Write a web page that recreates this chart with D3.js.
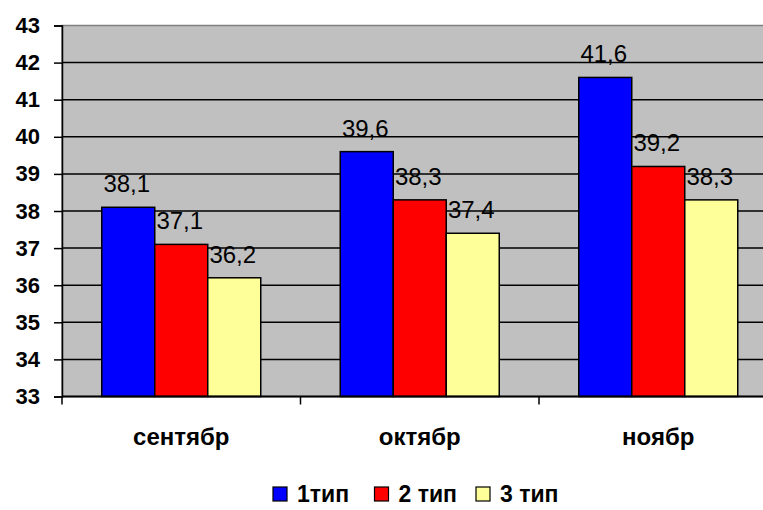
<!DOCTYPE html>
<html>
<head>
<meta charset="utf-8">
<script src="https://cdn.jsdelivr.net/npm/d3@7"></script>
<style>
  body { margin: 0; background: #fff; }
  svg { display: block; font-family: Arial, "Liberation Sans", sans-serif; }
</style>
</head>
<body>
<svg width="763" height="510"></svg>
<script>
var months = ["сентябр", "октябр", "ноябр"],
	series = ["1тип", "2 тип", "3 тип"],
	type1 = [38.1, 39.6, 41.6],
	type2 = [37.1, 38.3, 39.2],
	type3 = [36.2, 37.4, 38.3],
	yTicks = [33, 34, 35, 36, 37, 38, 39, 40, 41, 42, 43],
	colors = ["#0000ff", "#ff0000", "#ffff99"];

var values = [type1, type2, type3];

var svg = d3.select("svg"),
	margin = {top: 25.5, left: 62},
	step = 238.5,
	height = 371;

// the plot runs past the right edge of the window, like the original
var x0 = d3.scaleBand()
	.domain(months)
	.range([margin.left, margin.left + step * months.length])
	.paddingInner(1 / 3)
	.paddingOuter(1 / 6);

var x1 = d3.scaleBand()
	.domain(series)
	.range([0, x0.bandwidth()]);

var y = d3.scaleLinear()
	.domain([33, 43])
	.range([margin.top + height, margin.top]);

var plotRight = margin.left + step * months.length;

// plot background
svg.append("rect")
	.attr("x", margin.left)
	.attr("y", margin.top)
	.attr("width", plotRight - margin.left)
	.attr("height", height)
	.attr("fill", "#c0c0c0")
	.attr("stroke", "#808080")
	.attr("stroke-width", 1.5);

// grid lines
svg.append("g")
	.selectAll("line")
	.data(yTicks.slice(1, -1))
	.enter().append("line")
	.attr("x1", margin.left)
	.attr("x2", plotRight)
	.attr("y1", function(d){ return y(d) })
	.attr("y2", function(d){ return y(d) })
	.attr("stroke", "#000")
	.attr("stroke-width", 1.5);

// bars
var groups = svg.append("g")
	.selectAll("g")
	.data(months)
	.enter().append("g")
	.attr("transform", function(d){ return "translate(" + x0(d) + ",0)" });

groups.selectAll("rect")
	.data(function(d, i){ return series.map(function(s, j){ return {s: s, j: j, v: values[j][i]} }) })
	.enter().append("rect")
	.attr("x", function(d){ return x1(d.s) })
	.attr("y", function(d){ return y(d.v) })
	.attr("width", x1.bandwidth())
	.attr("height", function(d){ return y(33) - y(d.v) })
	.attr("fill", function(d){ return colors[d.j] })
	.attr("stroke", "#000")
	.attr("stroke-width", 1.5);

groups.selectAll("text")
	.data(function(d, i){ return series.map(function(s, j){ return {s: s, j: j, v: values[j][i]} }) })
	.enter().append("text")
	.attr("x", function(d){ return x1(d.s) + x1.bandwidth() / 2 - 1.5 })
	.attr("y", function(d){ return y(d.v) - 15 })
	.attr("text-anchor", "middle")
	.style("font-size", "24px")
	.attr("fill", "#000")
	.text(function(d){ return d.v.toFixed(1).replace(".", ",") });

// y axis
var yAxis = svg.append("g")
	.attr("transform", "translate(" + margin.left + ",0)")
	.call(d3.axisLeft(y).tickValues(yTicks).tickSize(8).tickPadding(14));

yAxis.select(".domain").attr("stroke-width", 1.5);
yAxis.selectAll(".tick line").attr("stroke-width", 1.5);
yAxis.selectAll("text")
	.style("font-size", "22px")
	.style("font-weight", "bold")
	.attr("fill", "#000");

// x axis
var xAxis = svg.append("g")
	.attr("transform", "translate(0," + (margin.top + height) + ")");

xAxis.append("line")
	.attr("x1", margin.left)
	.attr("x2", plotRight)
	.attr("stroke", "#000")
	.attr("stroke-width", 2);

xAxis.selectAll(".tick")
	.data(d3.range(months.length + 1))
	.enter().append("line")
	.attr("x1", function(i){ return margin.left + i * step })
	.attr("x2", function(i){ return margin.left + i * step })
	.attr("y1", 0)
	.attr("y2", 8)
	.attr("stroke", "#000")
	.attr("stroke-width", 1.5);

xAxis.selectAll("text")
	.data(months)
	.enter().append("text")
	.attr("x", function(d){ return x0(d) + x0.bandwidth() / 2 })
	.attr("y", 48)
	.attr("text-anchor", "middle")
	.style("font-size", "24px")
	.style("font-weight", "bold")
	.text(function(d){ return d });

// legend
var legend = svg.append("g")
	.selectAll("g")
	.data(series)
	.enter().append("g")
	.attr("transform", function(d, i){ return "translate(" + (273 + i * 101.5) + ",487)" });

legend.append("rect")
	.attr("width", 14)
	.attr("height", 14)
	.attr("fill", function(d, i){ return colors[i] })
	.attr("stroke", "#000")
	.attr("stroke-width", 1.2);

legend.append("text")
	.attr("x", 24)
	.attr("y", 15)
	.style("font-size", "23px")
	.style("font-weight", "bold")
	.text(function(d){ return d });
</script>
</body>
</html>
